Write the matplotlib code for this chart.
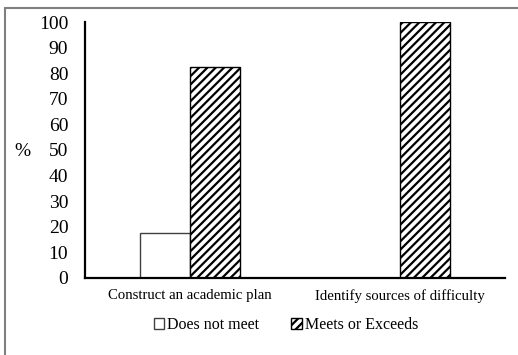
import numpy as np
import matplotlib.pyplot as plt
from matplotlib.patches import Rectangle

plt.rcParams["font.family"] = "Liberation Serif"
plt.rcParams["hatch.linewidth"] = 1.6

categories = ["Construct an academic plan", "Identify sources of difficulty"]
does_not_meet = [17.6, 0]
meets_or_exceeds = [82.4, 100]
yticks = list(range(0, 101, 10))

fig = plt.figure(figsize=(5.18, 3.55), dpi=100)
ax = fig.add_axes([0.164, 0.217, 0.811, 0.721])

# grey outer frame (top and left edges visible)
fig.patches.append(Rectangle((5 / 518, -0.05), 1.2, 1 - 8 / 355 + 0.05,
                             transform=fig.transFigure, fill=False,
                             edgecolor="#7f7f7f", linewidth=1.5))

x = np.arange(len(categories))
w = 0.238
ax.bar(x - w / 2, does_not_meet, w, color="white", edgecolor="#404040",
       linewidth=1.0, label="Does not meet")
ax.bar(x + w / 2, meets_or_exceeds, w, color="white", edgecolor="black",
       linewidth=1.0, hatch="////", label="Meets or Exceeds")

ax.set_xlim(-0.5, 1.5)
ax.set_ylim(0, 100)
ax.set_yticks(yticks)
ax.set_xticks(x)
ax.set_xticklabels(categories, fontsize=10.6)
ax.tick_params(axis="y", length=0, pad=12, labelsize=14)
ax.tick_params(axis="x", length=0, pad=8)
for s in ["top", "right"]:
    ax.spines[s].set_visible(False)
for s in ["left", "bottom"]:
    ax.spines[s].set_linewidth(1.6)

fig.text(22 / 518, 1 - 152 / 355, "%", fontsize=14, ha="center", va="center")

ax.legend(loc="center", bbox_to_anchor=(286 / 518, 1 - 325 / 355),
          bbox_transform=fig.transFigure, ncol=2, frameon=False,
          fontsize=11.5, handlelength=0.65, handleheight=0.65,
          handletextpad=0.2, columnspacing=2.0)

fig.savefig("out.png", dpi=100)
